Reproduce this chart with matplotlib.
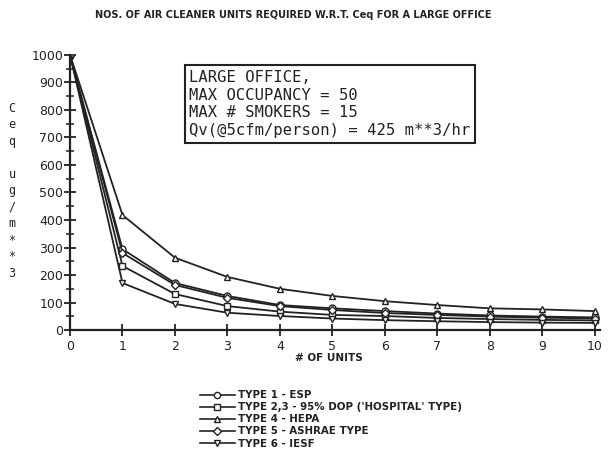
import numpy as np
import matplotlib
matplotlib.use("Agg")
import matplotlib.pyplot as plt
from matplotlib.lines import Line2D

# number of air cleaner units
units = list(range(11))

# Ceq (ug/m**3)
esp = [1000, 294, 171, 124, 91, 79, 69, 60, 53, 49, 46]
hospital = [1000, 233, 131, 87, 67, 55, 51, 44, 40, 37, 35]
hepa = [1000, 418, 263, 193, 150, 124, 105, 91, 79, 75, 69]
ashrae = [1000, 280, 164, 117, 87, 73, 62, 55, 49, 45, 42]
iesf = [1000, 171, 95, 63, 51, 42, 36, 32, 29, 27, 26]

series_labels = [
    "TYPE 1 - ESP",
    "TYPE 2,3 - 95% DOP ('HOSPITAL' TYPE)",
    "TYPE 4 - HEPA",
    "TYPE 5 - ASHRAE TYPE",
    "TYPE 6 - IESF",
]
series_markers = ["o", "s", "^", "D", "v"]

y_ticks = list(range(0, 1001, 100))
x_ticks = list(range(0, 11))

ink = "#222222"

fig = plt.figure(figsize=(6.09, 4.54), dpi=100)
ax = fig.add_axes([0.115, 0.273, 0.87, 0.606])

for vals, m, lab in zip([esp, hospital, hepa, ashrae, iesf], series_markers, series_labels):
    ms = 4 if m == "D" else 5
    ax.plot(units, vals, color=ink, lw=1.3, marker=m, ms=ms,
            mfc="white", mec=ink, mew=1.0, label=lab)

ax.set_xlim(0, 10.1)
ax.set_ylim(0, 1000)
ax.set_xticks(x_ticks)
ax.set_yticks(y_ticks)
ax.set_yticks(np.arange(50, 1000, 100), minor=True)
ax.tick_params(axis="both", direction="inout", length=8, width=1.3, color=ink,
               labelsize=9, labelcolor=ink)
ax.tick_params(axis="y", which="minor", direction="inout", length=6, width=1.1, color=ink)
ax.tick_params(axis="y", pad=1)
for s in ["top", "right"]:
    ax.spines[s].set_visible(False)
for s in ["left", "bottom"]:
    ax.spines[s].set_linewidth(1.6)
    ax.spines[s].set_color(ink)

fig.text(0.482, 0.966, "NOS. OF AIR CLEANER UNITS REQUIRED W.R.T. Ceq FOR A LARGE OFFICE",
         ha="center", va="center", fontsize=7.0, fontweight="bold", color=ink)

fig.text(0.02, 0.58, "C\ne\nq\n\nu\ng\n/\nm\n*\n*\n3", ha="center", va="center",
         fontsize=8.5, color=ink, linespacing=1.35, family="DejaVu Sans Mono")

fig.text(0.54, 0.212, "# OF UNITS", ha="center", va="center",
         fontsize=7.5, fontweight="bold", color=ink)

box_text = ("LARGE OFFICE,\nMAX OCCUPANCY = 50\nMAX # SMOKERS = 15\n"
            "Qv(@5cfm/person) = 425 m**3/hr")
ax.text(0.225, 0.945, box_text, transform=ax.transAxes, ha="left", va="top",
        fontsize=11.2, color=ink, linespacing=1.22, family="DejaVu Sans Mono",
        bbox=dict(boxstyle="square,pad=0.3", fc="white", ec=ink, lw=1.5))

handles = [Line2D([0], [0], color=ink, lw=1.2, marker=m, ms=4 if m == "D" else 4.5,
                  mfc="white", mec=ink) for m in series_markers]
leg = fig.legend(handles, series_labels, loc="lower left", bbox_to_anchor=(0.328, 0.012),
                 frameon=False, fontsize=7.4, handlelength=3.4, handletextpad=0.35,
                 labelspacing=0.2, borderaxespad=0, borderpad=0)
for t in leg.get_texts():
    t.set_fontweight("bold")
    t.set_color(ink)

fig.savefig("out.png", dpi=100)
